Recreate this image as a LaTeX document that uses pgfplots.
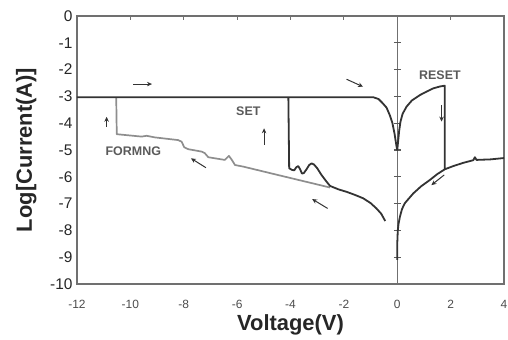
\documentclass[border=0pt]{standalone}
\usepackage{pgfplots}
\pgfplotsset{compat=1.18}
\usepackage{fontspec}
\setmainfont{Liberation Sans}
\usetikzlibrary{arrows.meta}
\definecolor{dk}{HTML}{333333}
\definecolor{gr}{HTML}{8E8E8E}
\definecolor{axc}{HTML}{707070}
\definecolor{lbl}{HTML}{5A5A5A}

\begin{document}
\begin{tikzpicture}
\begin{axis}[
  name=ax,
  at={(0,0)}, anchor=south west,
  scale only axis, width=427bp, height=268bp,
  xmin=-12, xmax=4, ymin=-10, ymax=0,
  xtick={-12,-10,-8,-6,-4,-2,0,2,4},
  ytick={-10,-9,-8,-7,-6,-5,-4,-3,-2,-1,0},
  xticklabels={-12,-10,-8,-6,-4,-2,0,2,4},
  yticklabels={-10,-9,-8,-7,-6,-5,-4,-3,-2,-1,0},
  xtick pos=right, xticklabel pos=left,
  ytick pos=left, yticklabel pos=left,
  tick align=inside,
  major tick length=4bp,
  xtick style={axc, line width=1bp},
  ytick style={draw=none},
  axis line style={axc, line width=1.1bp},
  xticklabel style={font=\fontsize{12}{14}\selectfont, text=black!70, anchor=center, yshift=-20bp},
  yticklabel style={font=\fontsize{15.5}{18}\selectfont, text=black!85, xshift=-1bp},
  xlabel={Voltage(V)},
  ylabel={Log[Current(A)]},
  every axis x label/.style={at={(axis description cs:0.5,-0.153)}, anchor=center, font=\fontsize{22}{26}\selectfont\bfseries, text=black!85},
  every axis y label/.style={at={(axis description cs:-0.119,0.5)}, rotate=90, anchor=center, font=\fontsize{22}{26}\selectfont\bfseries, text=black!85},
  clip=false,
]
% y axis at x=0
\draw[axc, line width=1.1bp] (axis cs:0,-10) -- (axis cs:0,0);
\pgfplotsinvokeforeach{-9,-8,-7,-6,-5,-4,-3,-2,-1}{
  \draw[axc!80!black, line width=1.1bp] ([xshift=-3.5bp]axis cs:0,#1) -- ([xshift=3.5bp]axis cs:0,#1);
}

% FORMING (gray)
\addplot[gr, line width=1.7bp, line join=round] coordinates {
(-2.52,-6.40) (-4.40,-5.95) (-5.77,-5.62) (-6.08,-5.56) (-6.21,-5.35) (-6.31,-5.22)
(-6.46,-5.37) (-7.08,-5.27) (-7.21,-5.12) (-7.33,-5.06) (-7.83,-4.97) (-7.98,-4.90)
(-8.08,-4.69) (-8.21,-4.63) (-9.08,-4.53) (-9.39,-4.47) (-9.58,-4.50) (-10.2,-4.44)
(-10.51,-4.41) (-10.53,-3.05)
};

% SET sweep (dark)
\addplot[dk, line width=1.8bp, line join=round] coordinates {
(-0.45,-7.65) (-0.60,-7.38) (-0.78,-7.18) (-1.00,-6.98) (-1.28,-6.80) (-1.60,-6.67)
(-1.90,-6.56) (-2.20,-6.47) (-2.52,-6.34) (-2.65,-6.18) (-2.84,-5.93) (-3.00,-5.68)
(-3.12,-5.54) (-3.21,-5.50) (-3.30,-5.56) (-3.40,-5.72) (-3.50,-5.86) (-3.57,-5.88)
(-3.64,-5.72) (-3.71,-5.60) (-3.78,-5.64) (-3.86,-5.76) (-3.95,-5.74) (-4.05,-5.68)
(-4.08,-3.05)
};

% compliance line, V-dip and RESET (dark)
\addplot[dk, line width=1.8bp, line join=round] coordinates {
(-12,-3.03) (-0.90,-3.03) (-0.70,-3.10) (-0.55,-3.25) (-0.40,-3.42) (-0.28,-3.70)
(-0.18,-4.00) (-0.10,-4.40) (-0.03,-4.85) (0,-5.00) (0.03,-4.70) (0.07,-4.30)
(0.12,-3.95) (0.20,-3.65) (0.35,-3.38) (0.55,-3.15) (0.85,-2.95) (1.10,-2.82)
(1.35,-2.70) (1.60,-2.63) (1.78,-2.60) (1.78,-5.72) (2.10,-5.60) (2.47,-5.48)
(2.85,-5.38) (2.91,-5.27) (2.97,-5.37) (3.50,-5.35) (4.00,-5.30)
};

% RESET return (dark)
\addplot[dk, line width=1.8bp, line join=round] coordinates {
(1.78,-5.72) (1.50,-5.90) (1.22,-6.12) (0.90,-6.35) (0.60,-6.62) (0.40,-6.85)
(0.28,-6.99) (0.18,-7.20) (0.10,-7.49) (0.05,-7.75) (0.02,-8.00) (0.00,-8.50) (0.00,-9.10)
};

% labels
\node[lbl, font=\fontsize{12.5}{14}\selectfont\bfseries] at (axis cs:-9.89,-5.06) {FORMNG};
\node[lbl, font=\fontsize{12.5}{14}\selectfont\bfseries] at (axis cs:-5.58,-3.57) {SET};
\node[lbl, font=\fontsize{12.5}{14}\selectfont\bfseries] at (axis cs:1.60,-2.20) {RESET};

% arrows
\tikzset{arr/.style={dk, line width=1bp, -{Stealth[length=5bp,width=4.5bp]}}}
\draw[arr] (axis cs:-9.90,-2.54) -- (axis cs:-9.19,-2.54);
\draw[arr] (axis cs:-10.89,-4.13) -- (axis cs:-10.89,-3.76);
\draw[arr] (axis cs:-4.99,-4.81) -- (axis cs:-4.99,-4.19);
\draw[arr] (axis cs:-7.17,-5.66) -- (axis cs:-7.73,-5.31);
\draw[arr] (axis cs:-2.61,-7.18) -- (axis cs:-3.19,-6.83);
\draw[arr] (axis cs:-1.90,-2.36) -- (axis cs:-1.28,-2.64);
\draw[arr] (axis cs:1.66,-3.32) -- (axis cs:1.66,-3.94);
\draw[arr] (axis cs:1.76,-5.93) -- (axis cs:1.28,-6.31);
\end{axis}
\pgfresetboundingbox
\path[use as bounding box] ([xshift=-77bp,yshift=-56bp]ax.south west) rectangle ([xshift=4bp,yshift=16bp]ax.north east);
\end{tikzpicture}
\end{document}
